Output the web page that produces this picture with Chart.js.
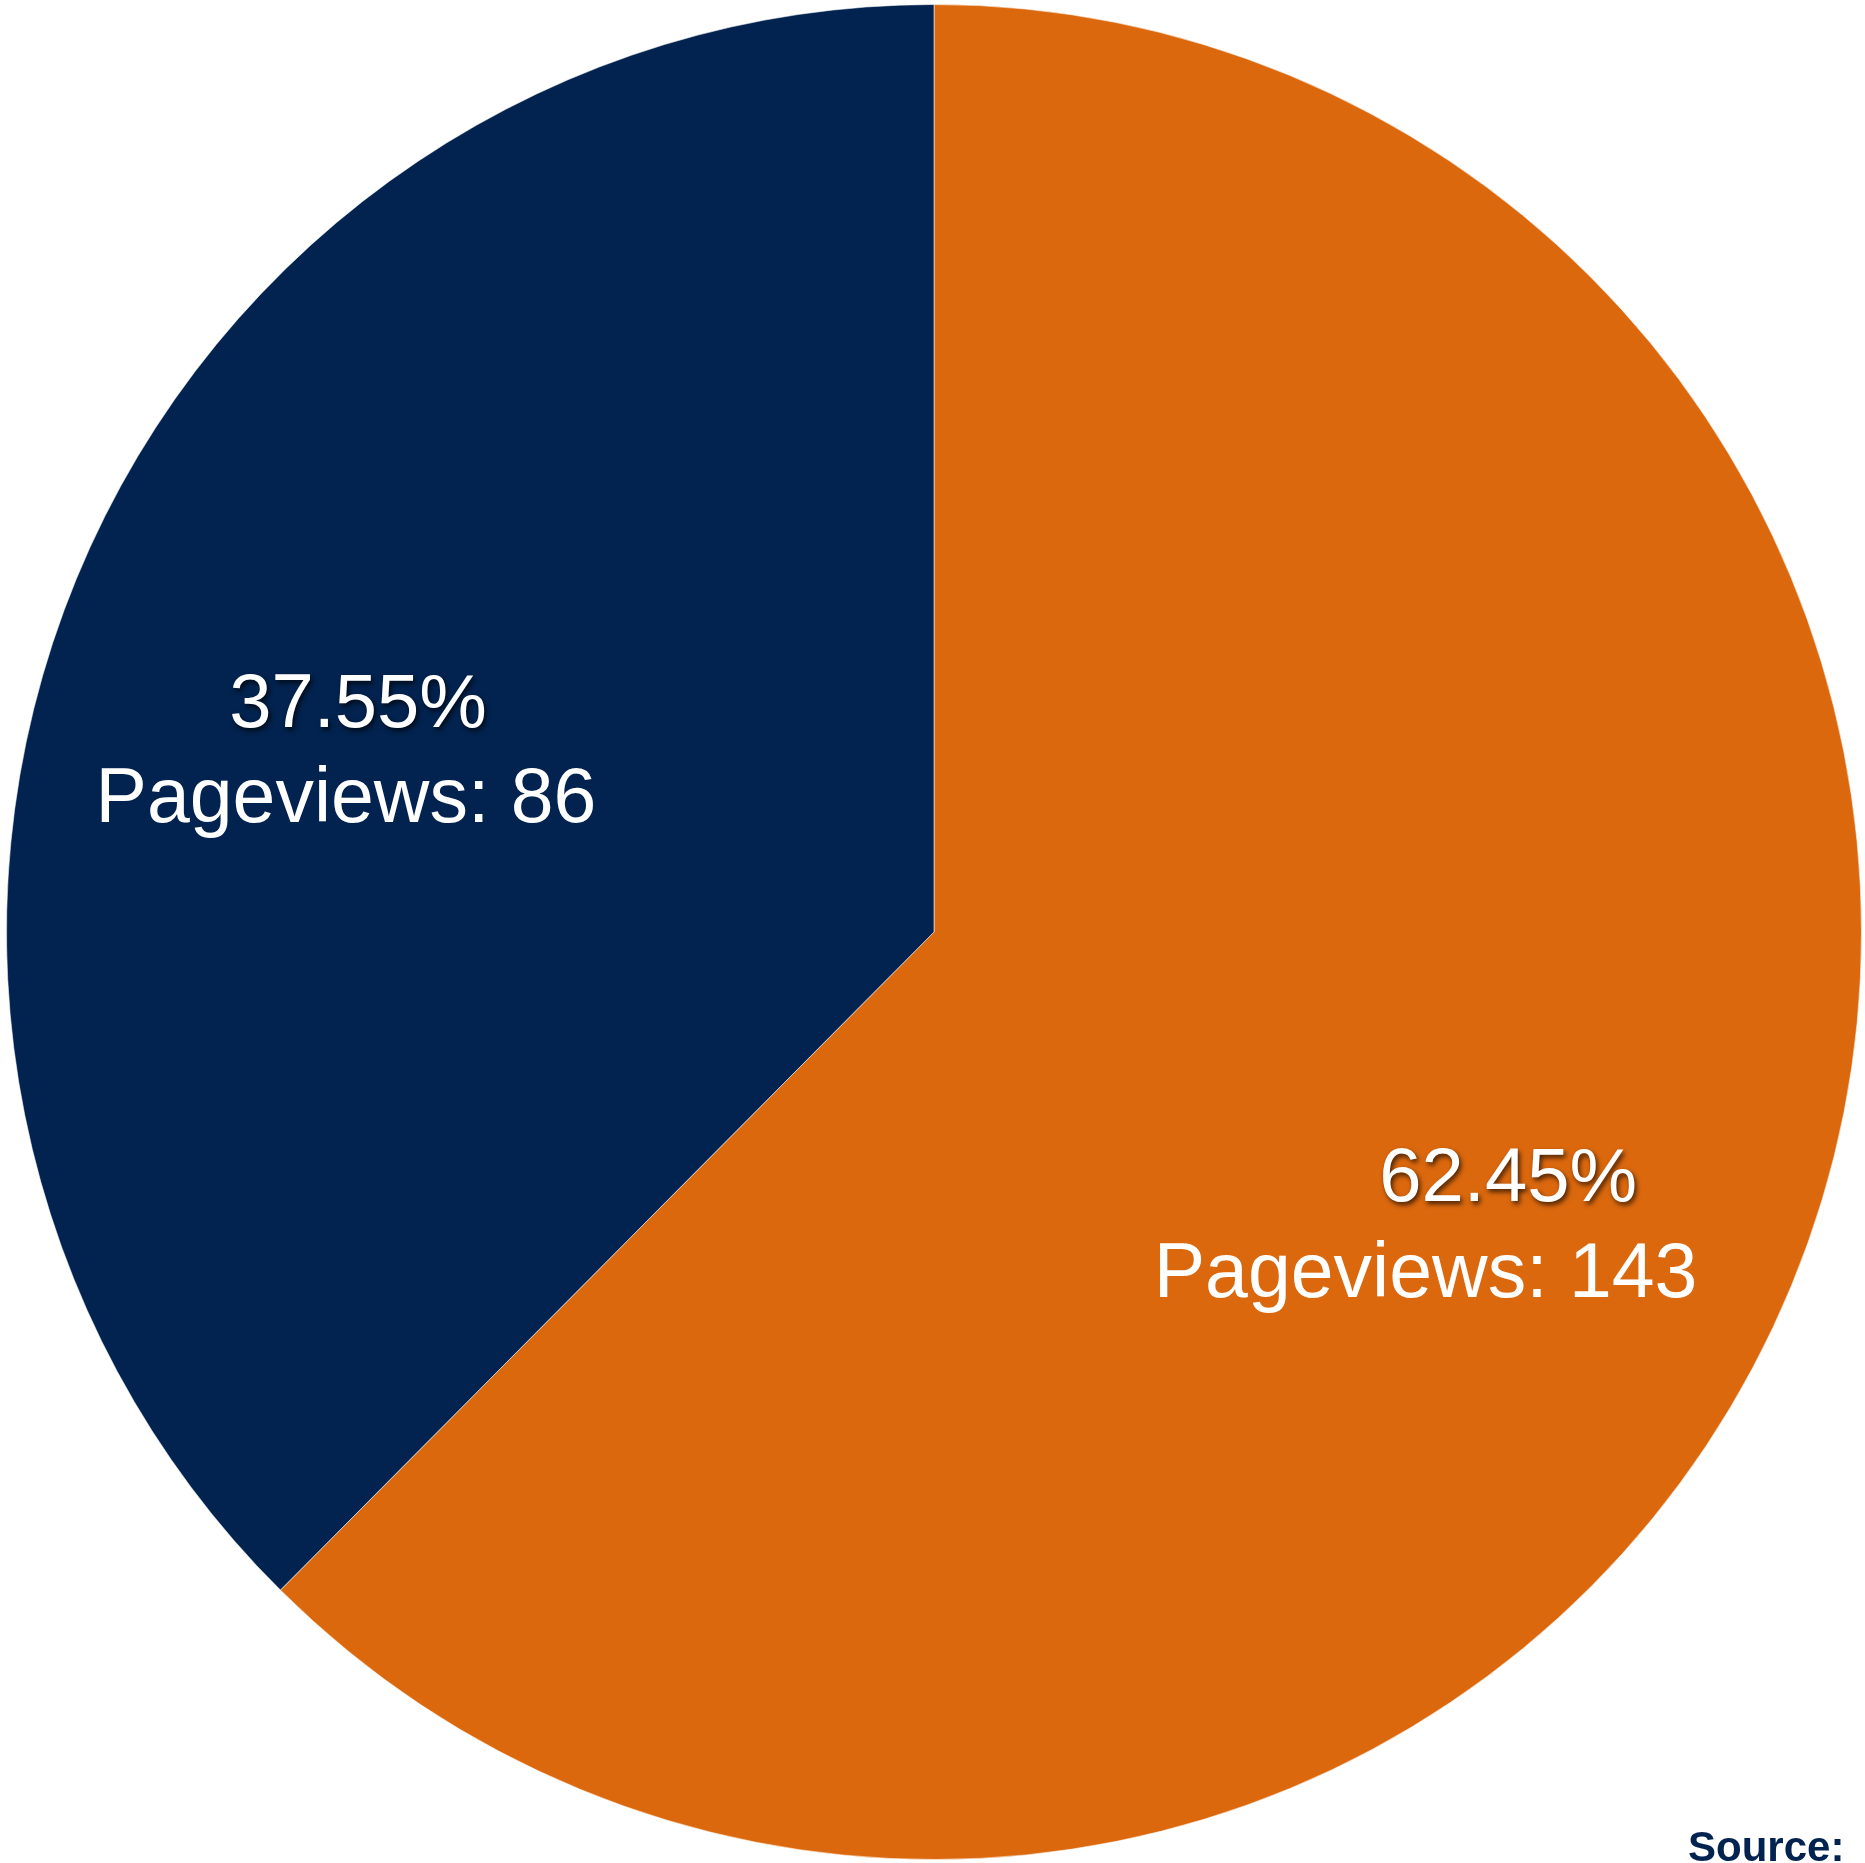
<!DOCTYPE html>
<html>
<head>
<meta charset="utf-8">
<script src="https://cdn.jsdelivr.net/npm/chart.js@4.4.1/dist/chart.umd.min.js"></script>
<style>
  html, body { margin: 0; padding: 0; background: #ffffff; overflow: hidden; }
</style>
</head>
<body>
<canvas id="c" width="1865" height="1863"></canvas>
<script>
const categories = ["Group A", "Group B"];
const pageviews = [143, 86];
const percentLabels = ["62.45%", "37.55%"];
const sliceColors = ["#DC680E", "#02234F"];
const sourceText = "Source:";

// label line anchors (centre x, baseline y) relative to pie centre, in units of the radius
const labelPlacement = [
  { pct: [0.619, 0.290], views: [0.530, 0.393] },
  { pct: [-0.621, -0.221], views: [-0.634, -0.1185] }
];

const labelPlugin = {
  id: 'sliceLabels',
  afterDatasetsDraw(chart) {
    const ctx = chart.ctx;
    const meta = chart.getDatasetMeta(0);
    meta.data.forEach((arc, i) => {
      const r = arc.outerRadius;
      const cx = arc.x, cy = arc.y;
      const pl = labelPlacement[i];
      ctx.save();
      ctx.fillStyle = '#ffffff';
      ctx.textAlign = 'center';
      ctx.textBaseline = 'alphabetic';
      ctx.save();
      ctx.shadowColor = 'rgba(0,0,0,0.7)';
      ctx.shadowOffsetX = 2;
      ctx.shadowOffsetY = 3;
      ctx.shadowBlur = 5;
      ctx.font = '76px "Liberation Sans", Arial, sans-serif';
      ctx.fillText(percentLabels[i], cx + pl.pct[0] * r, cy + pl.pct[1] * r);
      ctx.restore();
      ctx.font = '77px "Liberation Sans", Arial, sans-serif';
      ctx.fillText('Pageviews: ' + pageviews[i], cx + pl.views[0] * r, cy + pl.views[1] * r);
      ctx.restore();
    });
  },
  afterDraw(chart) {
    const ctx = chart.ctx;
    ctx.save();
    ctx.fillStyle = '#02234F';
    ctx.font = 'bold 42px "Liberation Sans", Arial, sans-serif';
    ctx.textAlign = 'left';
    ctx.textBaseline = 'alphabetic';
    ctx.fillText(sourceText, chart.width - 177, chart.height - 2);
    ctx.restore();
  }
};

new Chart(document.getElementById('c'), {
  type: 'pie',
  data: {
    labels: categories,
    datasets: [{
      data: pageviews,
      backgroundColor: sliceColors,
      borderColor: 'rgba(255,255,255,0.55)',
      borderWidth: 1
    }]
  },
  options: {
    responsive: false,
    animation: false,
    layout: { padding: { left: 6, right: 3, top: 4, bottom: 3 } },
    plugins: {
      legend: { display: false },
      tooltip: { enabled: false }
    }
  },
  plugins: [labelPlugin]
});
</script>
</body>
</html>
